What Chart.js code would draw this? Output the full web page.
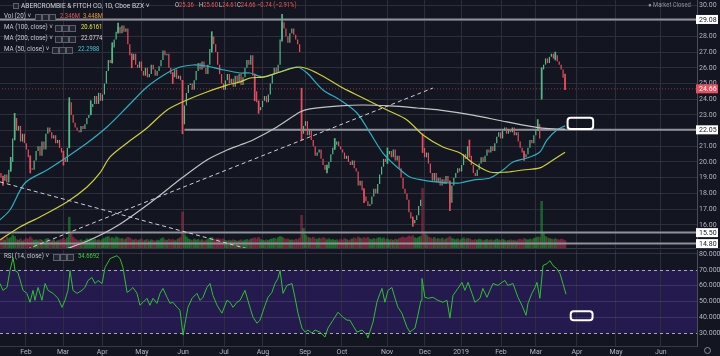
<!DOCTYPE html>
<html><head><meta charset="utf-8">
<script src="https://cdn.jsdelivr.net/npm/chart.js@4.4.1/dist/chart.umd.min.js"></script>
<style>
html,body{margin:0;padding:0;background:#131620;}
#wrap{position:relative;width:720px;height:356px;overflow:hidden;background:#131620;font-family:Roboto,'Open Sans',sans-serif;}
#pa{position:absolute;left:0;top:0;}
#pb{position:absolute;left:0;top:250px;}
.sep{position:absolute;left:0;width:720px;height:1px;background:#363a45;}
.t{position:absolute;white-space:nowrap;font-size:6.8px;color:#c5c8d0;line-height:9px;transform:scaleX(0.92);transform-origin:0 50%;}
.v{position:absolute;white-space:nowrap;font-size:7px;line-height:9px;transform:scaleX(0.84);transform-origin:0 50%;}
.ic{position:absolute;width:5px;height:5px;border:1px solid #5d606b;background:#22252f;}
</style></head><body>
<div id="wrap">
<canvas id="pa" width="720" height="248"></canvas>
<div class="sep" style="top:248px"></div>
<canvas id="pb" width="720" height="106"></canvas>

<div class="ic" style="left:13px;top:3px;width:4px;height:4px"></div>
<div class="t" style="left:21px;top:1px;font-size:7.2px;color:#d1d4dc">ABERCROMBIE &amp; FITCH CO, 1D, Cboe BZX ˅</div>
<div class="v" style="left:175px;top:1px;color:#c5c8d0">O<span style="color:#ef5350">25.36</span></div>
<div class="v" style="left:199px;top:1px;color:#c5c8d0">H<span style="color:#ef5350">25.60</span></div>
<div class="v" style="left:219px;top:1px;color:#c5c8d0">L<span style="color:#ef5350">24.61</span></div>
<div class="v" style="left:237px;top:1px;color:#c5c8d0">C<span style="color:#ef5350">24.66</span></div>
<div class="v" style="left:257px;top:1px;color:#ef5350">−0.74 (−2.91%)</div>
<div class="v" style="left:648px;top:1px;color:#8c8f99">● Market Closed</div>

<div class="t" style="left:4px;top:12px">Vol (20) ˅</div>
<div class="ic" style="left:35px;top:14px"></div><div class="ic" style="left:42px;top:14px"></div><div class="ic" style="left:49px;top:14px"></div>
<div class="v" style="left:60px;top:12px;color:#e0575f">2.346M</div>
<div class="v" style="left:83px;top:12px;color:#e8973a">3.448M</div>

<div class="t" style="left:4px;top:23px">MA (100, close) ˅</div>
<div class="ic" style="left:55px;top:25px"></div><div class="ic" style="left:62px;top:25px"></div><div class="ic" style="left:69px;top:25px"></div>
<div class="v" style="left:81px;top:23px;color:#e4e43a">20.6161</div>

<div class="t" style="left:4px;top:34px">MA (200, close) ˅</div>
<div class="ic" style="left:55px;top:36px"></div><div class="ic" style="left:62px;top:36px"></div><div class="ic" style="left:69px;top:36px"></div>
<div class="v" style="left:81px;top:34px;color:#d6d6d6">22.0774</div>

<div class="t" style="left:4px;top:45px">MA (50, close) ˅</div>
<div class="ic" style="left:52px;top:47px"></div><div class="ic" style="left:59px;top:47px"></div><div class="ic" style="left:66px;top:47px"></div>
<div class="v" style="left:78px;top:45px;color:#3ec7d8">22.2988</div>

<div class="t" style="left:4px;top:252px">RSI (14, close) ˅</div>
<div class="ic" style="left:53px;top:254px"></div><div class="ic" style="left:60px;top:254px"></div><div class="ic" style="left:67px;top:254px"></div>
<div class="v" style="left:78px;top:252px;color:#3fd13f">54.6692</div>

<div style="position:absolute;left:704px;top:347px;width:5px;height:5px;border:1px solid #8c8f99;border-radius:50%"></div>
</div>
<script>
// ---------- data ----------
const monthLabels = ['Feb','Mar','Apr','May','Jun','Jul','Aug','Sep','Oct','Nov','Dec','2019','Feb','Mar','Apr','May','Jun'];
const monthIdx = [12.8,31.8,51.8,72.2,93.3,114.3,134.2,155.8,174.7,197.8,217.2,235.7,256.2,274.1,295.1,315.1,338.1];
const priceTicks = [16,17,18,19,20,21,22,23,24,25,26,27,28,29,30];
const rsiTicks = [30,40,50,60,70,80];

const closes = [
19.0,18.8,19.2,18.7,19.5,20.0,21.5,22.8,22.0,22.3,
21.3,21.8,21.2,20.8,20.3,19.6,19.5,20.1,20.7,21.0,
20.4,21.3,20.8,21.8,22.2,21.9,21.5,21.7,21.2,21.4,
20.9,20.6,20.2,20.0,20.9,23.8,23.0,22.5,22.2,22.0,
21.9,22.3,22.1,22.4,22.8,23.0,23.5,23.7,24.2,23.7,
24.4,23.9,24.3,25.0,25.8,26.5,26.3,27.3,27.8,28.3,
28.6,28.2,28.7,28.3,28.5,27.5,26.8,26.5,26.9,26.2,
26.0,26.4,25.8,25.5,26.0,25.4,25.6,26.2,25.9,25.5,
25.8,26.1,26.5,27.1,26.8,26.9,26.0,25.6,25.4,25.9,
25.3,25.5,25.2,22.4,23.6,24.4,24.9,25.0,24.6,25.2,
25.8,26.3,25.9,26.4,26.0,25.6,26.2,27.2,28.0,27.5,
27.0,26.2,25.6,25.0,24.6,25.2,25.6,25.0,25.3,24.8,
25.5,25.1,25.6,24.9,25.4,26.0,26.5,26.2,26.8,25.5,
24.5,23.8,23.3,23.5,23.9,24.2,23.8,24.3,25.0,25.6,
26.0,25.7,26.2,27.8,28.9,28.5,28.0,27.6,28.2,28.5,
28.1,27.8,27.5,27.0,21.8,22.3,22.6,21.7,22.0,21.4,
21.0,20.4,20.6,20.8,20.2,19.8,19.5,19.6,20.0,20.5,
20.9,21.1,21.3,21.0,20.8,20.6,20.2,20.4,20.0,19.8,
20.1,19.6,19.4,18.5,18.8,18.2,17.8,17.5,17.2,17.3,
17.8,18.3,18.0,18.6,19.2,19.7,20.2,20.0,20.5,20.7,
20.3,20.8,20.1,20.4,19.6,19.0,18.3,18.0,17.6,16.8,
16.4,16.1,16.3,16.6,17.2,17.6,20.9,20.3,20.6,19.9,
19.3,18.8,19.3,18.7,19.0,18.5,18.9,18.6,19.1,18.7,
17.4,18.5,19.0,19.3,19.6,19.4,19.8,20.5,20.2,21.0,
20.4,19.8,19.3,19.1,19.5,19.9,20.3,20.0,20.4,20.8,
20.6,21.0,20.7,21.2,21.6,21.9,21.5,22.0,22.2,21.8,
22.1,21.9,22.2,21.7,21.9,21.3,20.9,20.6,20.3,20.5,
20.9,21.4,21.2,21.7,22.1,22.4,21.5,25.9,26.2,26.6,
26.3,26.7,26.9,26.6,26.8,26.4,26.2,25.9,25.36,24.66];
const firstOpen = 19.3;
const gapIdx  = [154, 216, 277];
const gapOpen = [24.6, 21.6, 24.1];

const wickIdx  = [1,5,7,15,32,35,46,57,60,67,88,93,108,130,132,144,154,167,171,186,198,211,216,230,240,268,275,277,284,289];
const wickLow  = [18.5,19.4,21.4,19.3,19.8,20.9,23.0,26.3,28.2,26.0,25.0,21.8,27.0,23.9,23.1,27.7,21.4,19.3,20.8,17.4,19.9,15.9,20.6,16.9,20.3,20.1,22.0,24.0,26.5,24.61];
const wickHigh = [19.1,20.3,23.1,20.4,20.7,24.1,23.9,27.6,28.85,26.9,25.7,25.2,28.3,25.6,23.9,29.4,24.7,19.8,21.5,18.3,20.9,16.5,21.8,18.8,21.4,20.7,22.7,26.0,27.0,25.60];

const volume = [
2.8,3.1,2.5,3.4,2.9,3.3,4.1,3.6,2.7,2.4,
2.9,2.2,2.6,3.0,2.8,3.5,2.9,2.4,2.6,2.3,
2.7,2.5,2.1,2.8,3.0,2.4,2.2,2.6,2.0,2.3,
2.5,2.7,3.1,2.6,3.2,9.7,5.0,3.4,2.8,2.5,
2.3,2.6,2.2,2.4,2.9,2.7,3.0,2.5,2.8,2.4,
2.6,2.3,2.7,3.1,3.4,3.6,3.0,3.3,2.9,3.5,
3.2,2.8,3.0,2.6,2.9,3.4,3.1,2.7,2.5,2.8,
2.4,2.6,2.9,2.3,2.5,2.7,2.2,2.6,2.4,2.1,
2.5,2.3,2.9,3.2,2.6,2.4,2.8,2.5,2.7,2.3,
2.6,2.9,3.3,11.3,4.2,3.5,2.9,2.6,2.4,2.8,
2.5,2.7,2.3,2.6,2.2,2.5,2.8,3.1,3.3,2.9,
2.7,3.0,2.8,2.6,2.9,2.4,2.2,2.5,2.3,2.6,
2.4,2.1,2.3,2.6,2.2,2.5,2.7,2.4,2.8,3.0,
3.2,2.9,3.4,2.7,2.5,2.3,2.6,2.4,2.7,2.9,
3.1,2.8,3.3,3.6,3.4,3.0,2.7,2.9,2.5,2.6,
2.4,2.8,2.6,3.1,10.3,6.2,4.1,3.5,3.2,3.0,
3.4,2.9,2.7,3.1,2.8,3.3,3.0,2.6,2.9,2.5,
2.7,2.4,2.6,2.3,2.8,2.5,3.0,2.7,2.4,2.6,
2.9,3.2,2.8,3.5,3.1,2.9,3.3,3.0,3.4,2.8,
2.6,3.0,2.7,3.1,3.3,2.9,3.2,2.7,2.9,2.5,
2.7,2.4,2.8,2.6,3.0,3.2,3.5,3.1,3.4,3.8,
3.5,3.9,3.2,3.0,3.4,3.6,18.8,5.0,4.1,3.5,
3.2,2.9,3.3,2.8,3.0,2.7,3.1,2.6,2.9,3.2,
3.6,3.0,2.8,2.6,2.9,2.5,2.8,3.2,2.7,3.0,
2.9,2.6,2.4,2.7,2.5,2.8,2.6,2.3,2.5,2.7,
2.4,2.6,2.3,2.5,2.8,2.6,2.4,2.7,2.5,2.2,
2.4,2.6,2.3,2.5,2.2,2.6,2.8,2.5,3.0,2.7,
2.5,2.8,2.6,3.0,3.2,3.5,3.3,14.7,4.7,3.6,
3.2,3.0,2.8,2.6,2.9,2.7,2.5,2.8,2.6,2.346];

const ma50Idx = [-0.5,4.6,12.3,23.6,33.8,44.1,54.3,64.6,74.8,85.1,91.7,98.4,105.5,112.2,122.5,127.6,134.2,141.4,151.6,156.8,165.0,173.7,182.4,189.1,195.7,202.9,209.5,216.2,223.4,230.0,235.2,241.8,250.5,257.2,262.3,269.5,276.1,279.7,284.8,289];
const ma50Val = [16.31,16.94,18.66,19.49,20.32,21.21,22.23,23.50,24.78,25.67,26.05,26.18,26.11,25.92,25.67,25.67,25.41,25.67,26.05,25.67,24.59,23.95,23.12,21.85,20.57,19.68,19.04,18.85,18.73,18.66,18.66,18.85,18.98,19.49,20.00,20.25,20.64,21.40,22.04,22.30];
const ma100Idx = [-0.5,9.7,20.0,33.8,44.1,50.7,55.9,64.6,74.8,85.1,95.3,105.5,115.8,122.5,127.6,134.2,143.0,153.2,161.9,175.2,185.5,197.8,208.0,216.2,226.4,235.2,241.8,250.5,259.2,267.4,276.1,281.3,289];
const ma100Val = [15.03,15.86,16.50,17.45,18.41,19.30,20.32,21.21,22.17,23.31,23.95,24.46,24.90,25.10,25.35,25.41,25.73,26.05,25.67,24.71,24.08,23.31,22.68,21.72,20.96,20.57,19.94,19.36,19.36,19.49,19.62,20.00,20.62];
const ma200Idx = [31.8,45.0,59.4,76.3,93.3,105.5,115.8,122.5,129.1,141.4,153.2,158.3,173.7,185.5,199.3,213.1,224.9,241.8,259.2,276.1,286.4,289];
const ma200Val = [14.39,15.00,15.92,17.39,19.04,20.13,20.76,21.08,21.40,22.23,23.18,23.38,23.57,23.63,23.57,23.44,23.31,22.99,22.55,22.17,22.10,22.08];

const rsiIdx = [-0.5,1.0,3.1,4.6,6.2,7.2,8.7,11.3,13.3,14.9,16.4,17.4,19.0,21.0,22.6,24.1,26.7,29.2,31.3,32.8,34.3,35.4,36.9,39.0,41.5,43.0,44.6,46.6,48.2,49.7,51.8,53.3,55.9,59.4,61.0,62.5,64.6,66.1,67.6,69.7,71.2,72.8,74.8,76.3,77.9,79.9,81.5,83.0,85.1,86.6,88.1,90.2,91.7,93.3,94.3,95.8,97.9,100.4,102.0,103.5,105.5,107.1,108.6,110.7,113.2,115.8,117.3,118.9,120.9,122.5,125.0,126.5,129.1,131.2,132.7,135.3,136.8,138.8,140.4,141.9,143.0,144.5,146.5,149.1,150.6,152.2,154.2,155.8,157.3,159.3,160.9,163.4,166.0,167.5,170.1,172.7,175.2,177.3,178.8,180.3,182.4,185.0,187.5,188.0,190.6,192.6,194.2,195.2,196.7,198.3,200.3,201.9,203.4,205.4,208.0,209.5,212.1,213.6,215.2,215.7,217.2,218.8,221.3,223.9,226.4,228.5,230.0,231.6,234.1,236.2,237.7,239.3,241.3,242.8,245.4,246.9,249.0,250.5,252.1,254.6,256.7,258.2,259.7,262.3,264.9,266.9,269.0,270.0,272.0,273.6,274.6,276.1,277.7,279.7,281.3,282.8,284.8,286.4,287.9,289.5];
const rsiVal = [61.4,57.1,58.9,69.6,77.7,69.6,68.3,57.1,55.2,49.6,57.1,50.8,58.9,50.8,61.4,57.1,55.2,52.1,46.4,50.8,57.1,69.6,57.1,55.2,57.1,58.9,63.3,65.2,61.4,63.3,61.4,71.4,77.1,78.9,77.1,71.4,55.8,57.1,58.9,55.2,47.7,49.6,52.1,47.7,52.1,48.9,55.2,58.3,52.7,48.9,49.6,46.4,44.6,28.9,36.4,46.4,52.1,55.2,50.8,52.7,58.9,61.4,53.9,47.7,42.7,50.8,49.6,46.4,49.6,50.8,57.1,50.8,40.2,36.4,38.3,47.7,52.7,55.8,61.4,64.6,69.6,55.2,60.2,61.4,52.7,42.7,33.3,30.8,32.1,30.2,32.1,30.8,27.7,33.3,38.3,43.3,40.2,38.3,38.3,35.0,30.8,32.1,28.9,27.1,37.1,49.6,55.2,58.3,49.6,57.1,58.9,52.1,46.4,42.7,33.9,30.8,33.3,41.4,50.8,64.6,52.7,52.1,52.7,50.8,49.6,50.8,39.6,53.9,58.3,62.1,57.1,62.1,55.2,49.6,52.1,58.3,52.7,57.1,61.4,60.2,62.1,63.3,60.2,61.4,52.7,47.7,41.4,48.9,55.2,58.9,62.1,52.1,72.7,73.9,75.8,72.7,70.8,67.7,61.4,54.67];

const levelPrices = [29.08, 22.05, 15.50, 14.80];
const levelFrom   = [-1, 94, -1, -1];
const lastPrice = 24.66;
const trendUp   = {x:[10, 221.3], y:[14.28, 24.71]};
const trendDown = {x:[-0.5, 135], y:[18.73, 14.18]};
const priceBox = {x:[290.3, 303.4], y:[22.82, 22.10]};
const rsiBox   = {x:[291.9, 303.1], y:[43.9, 38.3]};

// ---------- build ----------
const UP = '#53b987', DN = '#eb4d5c';
const opens = closes.map((c,i) => {
  const g = gapIdx.indexOf(i);
  if (g >= 0) return gapOpen[g];
  return i === 0 ? firstOpen : closes[i-1];
});
const isUp = i => closes[i] >= opens[i];
const XMIN = -0.5, XMAX = 356.6;
const GRID = '#2b2f3b';
const FONT = {size:7, family:'Roboto'};
const pts = (xs, ys) => xs.map((x,i) => ({x, y: ys[i]}));

const xTicks = s => { s.ticks = monthIdx.map(v => ({value: v})); };
const xLabel = (v, i) => monthLabels[i];

const priceData = {
  datasets: [
    {type:'bar', label:'vol', yAxisID:'vol', order:10, grouped:false,
     data: volume.map((v,i)=>({x:i, y:v})),
     backgroundColor: volume.map((v,i)=> isUp(i) ? 'rgba(30,160,50,0.55)' : 'rgba(190,50,80,0.5)'),
     barPercentage:1, categoryPercentage:1},
    ...levelPrices.map((p,k)=>({type:'line', order:8, data: pts([levelFrom[k], 360],[p,p]),
      borderColor:'#8f929b', borderWidth:2, pointRadius:0})),
    {type:'line', order:8, data: pts([-1,360],[lastPrice,lastPrice]), borderColor:'#9b2f3c', borderWidth:1, borderDash:[1,2], pointRadius:0},
    {type:'bar', label:'wick', yAxisID:'y', order:6, grouped:false,
     data: wickIdx.map((x,k)=>({x, y:[wickLow[k], wickHigh[k]]})),
     backgroundColor: wickIdx.map(x => isUp(x) ? UP : DN), barThickness:1},
    {type:'bar', label:'candles', yAxisID:'y', order:5, grouped:false,
     data: closes.map((c,i)=>({x:i, y:[opens[i], c]})),
     backgroundColor: closes.map((c,i)=> isUp(i) ? UP : DN),
     barPercentage:0.62, categoryPercentage:1},
    {type:'line', order:3, data: pts(ma200Idx, ma200Val), borderColor:'#c4c4c4', borderWidth:1.2, pointRadius:0, tension:0.3},
    {type:'line', order:3, data: pts(ma100Idx, ma100Val), borderColor:'#cfcf35', borderWidth:1.2, pointRadius:0, tension:0.3},
    {type:'line', order:3, data: pts(ma50Idx, ma50Val), borderColor:'#2ab0c2', borderWidth:1.2, pointRadius:0, tension:0.3},
    {type:'line', order:2, data: pts(trendUp.x, trendUp.y), borderColor:'#cfd0d6', borderWidth:1, borderDash:[4,3], pointRadius:0},
    {type:'line', order:2, data: pts(trendDown.x, trendDown.y), borderColor:'#cfd0d6', borderWidth:1, borderDash:[4,3], pointRadius:0}
  ]
};

function roundRect(ctx, x, y, w, h, r) {
  ctx.beginPath();
  ctx.moveTo(x+r, y); ctx.lineTo(x+w-r, y); ctx.quadraticCurveTo(x+w, y, x+w, y+r);
  ctx.lineTo(x+w, y+h-r); ctx.quadraticCurveTo(x+w, y+h, x+w-r, y+h);
  ctx.lineTo(x+r, y+h); ctx.quadraticCurveTo(x, y+h, x, y+h-r);
  ctx.lineTo(x, y+r); ctx.quadraticCurveTo(x, y, x+r, y); ctx.closePath();
}

const pricePlugin = {
  id:'pricePlugin',
  afterDatasetsDraw(chart) {
    const {ctx, scales:{x, y}} = chart;
    const x0 = x.getPixelForValue(priceBox.x[0]), x1 = x.getPixelForValue(priceBox.x[1]);
    const y0 = y.getPixelForValue(priceBox.y[0]), y1 = y.getPixelForValue(priceBox.y[1]);
    ctx.save(); ctx.strokeStyle = '#ffffff'; ctx.lineWidth = 2;
    roundRect(ctx, x0, y0, x1-x0, y1-y0, 3); ctx.stroke(); ctx.restore();
  },
  afterDraw(chart) {
    const {ctx, chartArea, scales:{y}} = chart;
    ctx.save();
    ctx.font = '7px Roboto'; ctx.textBaseline = 'middle'; ctx.textAlign = 'left';
    const box = (v, bg, fg) => {
      const py = y.getPixelForValue(v);
      ctx.fillStyle = bg; ctx.fillRect(chartArea.right - 1, py - 4.5, 22, 9);
      ctx.fillStyle = fg; ctx.fillText(v.toFixed(2), chartArea.right + 2, py + 0.5);
    };
    levelPrices.forEach(v => box(v, '#ffffff', '#131722'));
    box(lastPrice, '#e8505d', '#ffffff');
    ctx.restore();
  }
};

new Chart(document.getElementById('pa'), {
  type:'bar', data: priceData, plugins:[pricePlugin],
  options:{
    responsive:false, animation:false, devicePixelRatio:1,
    layout:{padding:0},
    plugins:{legend:{display:false}, tooltip:{enabled:false}},
    scales:{
      x:{type:'linear', min:XMIN, max:XMAX, offset:false,
         grid:{color:GRID, drawTicks:false, offset:false}, border:{display:false},
         ticks:{display:false, autoSkip:false}, afterBuildTicks:xTicks,
         afterFit:s=>{s.height=0; s.paddingLeft=0; s.paddingRight=0;}},
      y:{position:'right', min:14.52, max:30.32,
         grid:{color:GRID, drawTicks:false}, border:{display:true, color:'#4a4e59'},
         ticks:{color:'#b2b5be', font:FONT, padding:2, callback:v=>Number(v).toFixed(2)},
         afterBuildTicks:s=>{s.ticks = priceTicks.map(v=>({value:v}));},
         afterFit:s=>{s.width=23; s.paddingTop=0; s.paddingBottom=0;}},
      vol:{display:false, min:0, max:78}
    }
  }
});

const rsiPlugin = {
  id:'rsiPlugin',
  beforeDraw(chart) {
    const {ctx, chartArea:a, scales:{y}} = chart;
    const t = y.getPixelForValue(70), b = y.getPixelForValue(30);
    ctx.save(); ctx.fillStyle = '#241a4e'; ctx.fillRect(a.left, t, a.right - a.left, b - t); ctx.restore();
  },
  beforeDatasetsDraw(chart) {
    const {ctx, chartArea:a, scales:{y}} = chart;
    ctx.save(); ctx.strokeStyle = '#a9a9b5'; ctx.lineWidth = 1; ctx.setLineDash([3,3]);
    [70,30].forEach(v => { const py = Math.round(y.getPixelForValue(v)) + 0.5;
      ctx.beginPath(); ctx.moveTo(a.left, py); ctx.lineTo(a.right, py); ctx.stroke(); });
    ctx.restore();
  },
  afterDatasetsDraw(chart) {
    const {ctx, scales:{x, y}} = chart;
    const x0 = x.getPixelForValue(rsiBox.x[0]), x1 = x.getPixelForValue(rsiBox.x[1]);
    const y0 = y.getPixelForValue(rsiBox.y[0]), y1 = y.getPixelForValue(rsiBox.y[1]);
    ctx.save(); ctx.strokeStyle = '#ffffff'; ctx.lineWidth = 2;
    roundRect(ctx, x0, y0, x1-x0, y1-y0, 3); ctx.stroke(); ctx.restore();
  }
};

new Chart(document.getElementById('pb'), {
  type:'line',
  data:{datasets:[{data: pts(rsiIdx, rsiVal), borderColor:'#2ec22e', borderWidth:1, pointRadius:0, tension:0}]},
  plugins:[rsiPlugin],
  options:{
    responsive:false, animation:false, devicePixelRatio:1,
    layout:{padding:0},
    plugins:{legend:{display:false}, tooltip:{enabled:false}},
    scales:{
      x:{type:'linear', min:XMIN, max:XMAX, offset:false,
         grid:{color:GRID, drawTicks:false}, border:{display:true, color:'#363a45'},
         ticks:{color:'#b2b5be', font:FONT, padding:2, autoSkip:false, maxRotation:0, callback:xLabel},
         afterBuildTicks:xTicks,
         afterFit:s=>{s.height=10; s.paddingLeft=0; s.paddingRight=0;}},
      y:{position:'right', min:22.06, max:82.5,
         grid:{color:ctx => (ctx.tick && (ctx.tick.value===70 || ctx.tick.value===30)) ? 'rgba(0,0,0,0)' : 'rgba(120,110,170,0.3)', drawTicks:false},
         border:{display:true, color:'#4a4e59'},
         ticks:{color:'#b2b5be', font:FONT, padding:2, callback:v=>Number(v).toFixed(4)},
         afterBuildTicks:s=>{s.ticks = rsiTicks.map(v=>({value:v}));},
         afterFit:s=>{s.width=23; s.paddingTop=0; s.paddingBottom=0;}}
    }
  }
});
</script>
</body></html>
